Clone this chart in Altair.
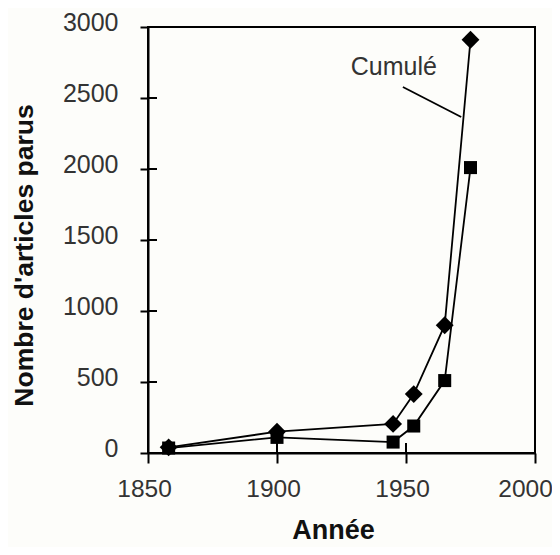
import altair as alt
import pandas as pd

years = [1858, 1900, 1945, 1953, 1965, 1975]
annuel = [35, 110, 77, 190, 510, 2010]
cumule = [40, 150, 205, 415, 900, 2910]
series = ["Annuel", "Cumulé"]
x_ticks = [1850, 1900, 1950, 2000]
y_ticks = [0, 500, 1000, 1500, 2000, 2500, 3000]

df = pd.DataFrame({
    "year": years + years,
    "value": annuel + cumule,
    "serie": [series[0]] * len(years) + [series[1]] * len(years),
})

FONT = "Liberation Sans"

x = alt.X("year:Q",
          scale=alt.Scale(domain=[1850, 2000], nice=False, zero=False),
          axis=alt.Axis(values=x_ticks, format="d", title="Année",
                        tickSize=10, labelPadding=14, titlePadding=17,
                        labelFlush=False,
                        labelOffset=alt.expr("datum.value == 2000 ? -10 : -4"),
                        labelFontSize=24.5,
                        titleFontSize=27,
                        titleX=185, titleAnchor="start", titleAlign="center"))
y = alt.Y("value:Q",
          scale=alt.Scale(domain=[0, 3000], nice=False),
          axis=alt.Axis(values=y_ticks, format="d", title="Nombre d'articles parus",
                        tickSize=8, labelPadding=22, labelOffset=-5,
                        labelFlush=False,
                        titleFontSize=26.5,
                        titleX=-110, titleY=228, titleAngle=-90,
                        titleAlign="center", titleBaseline="bottom"))

lines = alt.Chart(df).mark_line(color="black", strokeWidth=1.8).encode(
    x=x, y=y, detail="serie:N", order="year:Q")

points = alt.Chart(df).mark_point(filled=True, color="black", opacity=1).encode(
    x=x, y=y,
    shape=alt.Shape("serie:N", scale=alt.Scale(domain=series, range=["square", "diamond"]), legend=None),
    size=alt.Size("serie:N", scale=alt.Scale(domain=series, range=[170, 320]), legend=None),
)

ytick_df = pd.DataFrame({"value": y_ticks})
xtick_df = pd.DataFrame({"year": x_ticks})

yticks_in = alt.Chart(ytick_df).mark_rule(color="black", strokeWidth=2).encode(
    y=y, x=alt.value(0), x2=alt.value(9))
xticks_in = alt.Chart(xtick_df).mark_rule(color="black", strokeWidth=2).encode(
    x=x, y=alt.value(426), y2=alt.value(416))

ann_text_df = pd.DataFrame({"year": [1945.3], "value": [2662], "label": ["Cumulé"]})
ann_line_df = pd.DataFrame({"year": [1948.8], "value": [2577], "year2": [1971.4], "value2": [2366]})

ann_text = alt.Chart(ann_text_df).mark_text(
    font=FONT, fontSize=25, color="#333333", align="center", baseline="alphabetic").encode(
    x=x, y=y, text="label:N")
ann_line = alt.Chart(ann_line_df).mark_rule(color="black", strokeWidth=1.8).encode(
    x=x, y=y, x2="year2:Q", y2="value2:Q")

chart = alt.layer(lines, points, yticks_in, xticks_in, ann_line, ann_text).properties(
    width=387, height=426,
    autosize=alt.AutoSizeParams(type="none"),
    padding={"left": 140, "top": 19, "right": 17, "bottom": 94},
    background="#fdfdfa",
).configure_view(
    stroke="black", strokeWidth=2
).configure_axis(
    grid=False, domainColor="black", domainWidth=2, tickColor="black", tickWidth=2,
    labelFont=FONT, labelFontSize=25, labelColor="#333333",
    titleFont=FONT, titleFontSize=25, titleFontWeight="bold", titleColor="#111111",
)

chart.save("out.html", embed_options={"renderer": "svg", "actions": False})
